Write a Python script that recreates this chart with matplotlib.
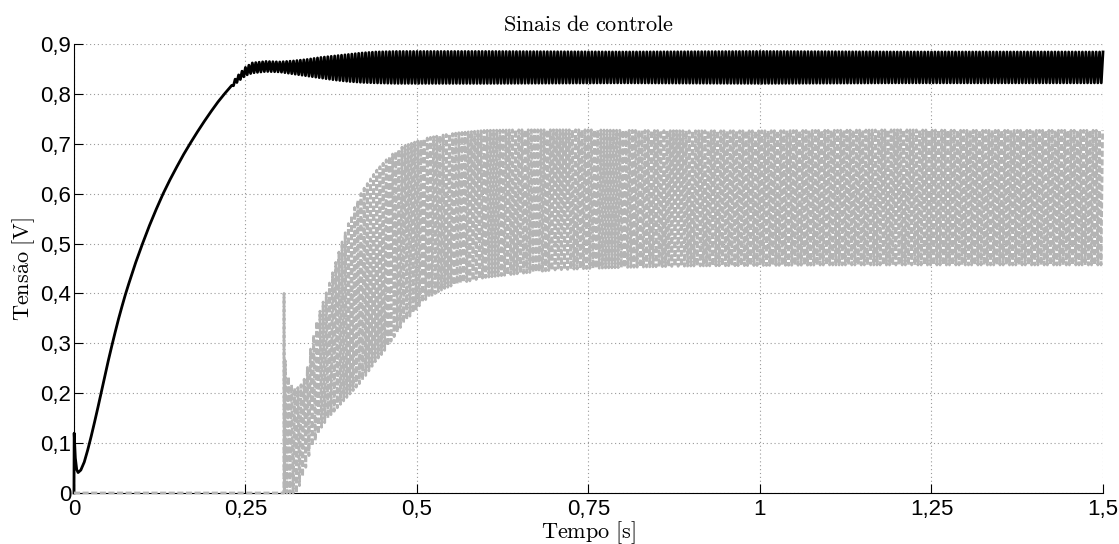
import numpy as np
import matplotlib
matplotlib.use("Agg")
import matplotlib.pyplot as plt

plt.rcParams["mathtext.fontset"] = "cm"
plt.rcParams["font.family"] = ["Liberation Sans", "DejaVu Sans"]

# ---- axis ticks -----------------------------------------------------------
x_ticks = [0.0, 0.25, 0.5, 0.75, 1.0, 1.25, 1.5]
x_tick_labels = ["0", "0,25", "0,5", "0,75", "1", "1,25", "1,5"]
y_ticks = [0.0, 0.1, 0.2, 0.3, 0.4, 0.5, 0.6, 0.7, 0.8, 0.9]
y_tick_labels = ["0", "0,1", "0,2", "0,3", "0,4", "0,5", "0,6", "0,7", "0,8", "0,9"]

# ---- control signal 1 (black): start-up transient -------------------------
black_t = [0.0, 0.0003, 0.002, 0.004, 0.006, 0.010, 0.015, 0.020, 0.025,
           0.030, 0.035, 0.040, 0.045, 0.050, 0.055, 0.060, 0.065, 0.070,
           0.075, 0.080, 0.090, 0.100, 0.110, 0.120, 0.130, 0.140, 0.150,
           0.160, 0.170, 0.180, 0.190, 0.200, 0.210, 0.220, 0.230]
black_v = [0.0, 0.12, 0.07, 0.047, 0.041, 0.046, 0.062, 0.086, 0.113,
           0.142, 0.172, 0.203, 0.234, 0.265, 0.294, 0.322, 0.349, 0.374,
           0.398, 0.420, 0.462, 0.500, 0.536, 0.569, 0.600, 0.628, 0.654,
           0.679, 0.702, 0.724, 0.745, 0.765, 0.784, 0.801, 0.817]

# ---- control signal 1 (black): switching band, upper / lower levels -------
black_band_t = [0.230, 0.240, 0.250, 0.260, 0.280, 0.300, 0.320, 0.340,
                0.360, 0.380, 0.400, 0.420, 0.440, 0.470, 0.600, 0.800,
                1.000, 1.200, 1.500]
black_hi = [0.821, 0.838, 0.853, 0.862, 0.865, 0.864, 0.866, 0.869,
            0.873, 0.876, 0.879, 0.882, 0.884, 0.885, 0.885, 0.884,
            0.885, 0.884, 0.884]
black_lo = [0.813, 0.826, 0.837, 0.842, 0.845, 0.844, 0.840, 0.836,
            0.832, 0.828, 0.825, 0.823, 0.822, 0.821, 0.821, 0.822,
            0.821, 0.822, 0.822]

# ---- control signal 2 (gray): idle, then enable spike ---------------------
gray_t = [0.0, 0.306, 0.3062, 0.3066]
gray_v = [0.0, 0.0, 0.40, 0.0]

# ---- control signal 2 (gray): switching band, upper / lower levels --------
gray_band_t = [0.308, 0.312, 0.316, 0.320, 0.325, 0.330, 0.335, 0.340,
               0.345, 0.350, 0.355, 0.360, 0.365, 0.370, 0.380, 0.390,
               0.400, 0.410, 0.420, 0.430, 0.440, 0.450, 0.460, 0.470,
               0.480, 0.490, 0.500, 0.510, 0.520, 0.540, 0.560, 0.600,
               0.650, 0.700, 0.750, 0.800, 0.900, 1.000, 1.100, 1.200,
               1.300, 1.500]
gray_hi = [0.265, 0.235, 0.220, 0.210, 0.210, 0.215, 0.225, 0.250,
           0.290, 0.320, 0.350, 0.370, 0.390, 0.410, 0.455, 0.500,
           0.540, 0.575, 0.605, 0.625, 0.645, 0.660, 0.675, 0.685,
           0.695, 0.700, 0.705, 0.710, 0.713, 0.718, 0.722, 0.727,
           0.728, 0.728, 0.728, 0.727, 0.726, 0.726, 0.727, 0.728,
           0.727, 0.727]
gray_lo = [0.000, 0.000, 0.000, 0.000, 0.000, 0.020, 0.040, 0.060,
           0.090, 0.100, 0.115, 0.130, 0.140, 0.150, 0.165, 0.180,
           0.195, 0.210, 0.225, 0.245, 0.265, 0.280, 0.300, 0.320,
           0.340, 0.355, 0.370, 0.385, 0.395, 0.410, 0.420, 0.432,
           0.440, 0.447, 0.450, 0.452, 0.455, 0.456, 0.457, 0.457,
           0.457, 0.457]

T_END = 1.5


def switching(knot_t, hi, lo, t_end, half_period):
    """PWM-like waveform swinging between the upper and lower envelope
    lines drawn through the given levels."""
    n = int(round((t_end - knot_t[0]) / half_period))
    k = np.arange(n + 1)
    t = knot_t[0] + half_period * k
    upper = np.interp(t, knot_t, hi)
    lower = np.interp(t, knot_t, lo)
    v = np.where(k % 2 == 0, upper, lower)
    return t, v


bt, bv = switching(black_band_t, black_hi, black_lo, T_END, 0.0025)
gt, gv = switching(gray_band_t, gray_hi, gray_lo, T_END, 0.0023)

black_x = np.concatenate([black_t, bt[1:]])
black_y = np.concatenate([black_v, bv[1:]])
gray_x = np.concatenate([gray_t, gt])
gray_y = np.concatenate([gray_v, gv])

fig = plt.figure(figsize=(11.19, 5.44), dpi=100)
ax = fig.add_axes([0.0661, 0.09375, 0.9196, 0.8254])

ax.plot(black_x, black_y, color="black", lw=2.0, clip_on=False, zorder=3)
ax.plot(gray_x, gray_y, color="#b4b4b4", lw=2.0, linestyle=(0, (2.2, 0.9)),
        clip_on=False, zorder=4)

ax.set_xlim(0, 1.5)
ax.set_ylim(0, 0.9)
ax.set_xticks(x_ticks)
ax.set_xticklabels(x_tick_labels)
ax.set_yticks(y_ticks)
ax.set_yticklabels(y_tick_labels)
ax.tick_params(direction="in", length=6.5, width=0.8, labelsize=16)
ax.tick_params(axis="x", pad=4)
ax.tick_params(axis="y", pad=2)

ax.grid(True, color="#9a9a9a", linestyle=(0, (1, 2.5)), linewidth=0.8)
for side in ("top", "right"):
    ax.spines[side].set_visible(False)
for side in ("left", "bottom"):
    ax.spines[side].set_linewidth(0.8)

ax.set_title(r"$\mathrm{Sinais\ de\ controle}$", fontsize=16, pad=9)
ax.set_xlabel(r"$\mathrm{Tempo\ [s]}$", fontsize=16)
ax.xaxis.set_label_coords(0.5, -0.058)
ax.set_ylabel(r"$\mathrm{Tens\tilde{a}o\ [V]}$", fontsize=16)
ax.yaxis.set_label_coords(-0.0486, 0.5)
ax.yaxis.label.set_va("center")

fig.savefig("out.png", dpi=100)
